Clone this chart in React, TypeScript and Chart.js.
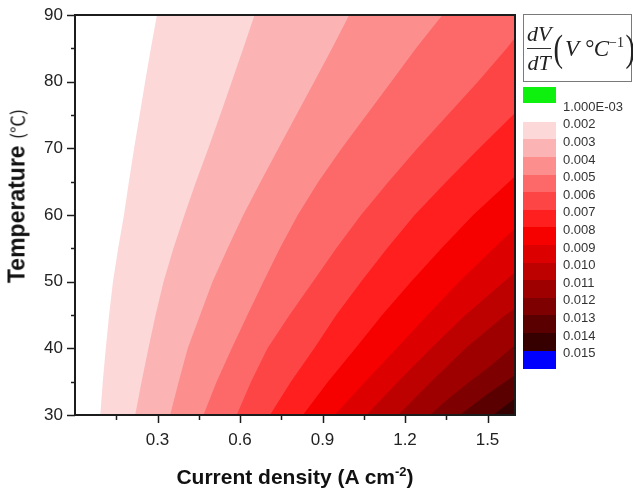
import React, { useEffect, useRef } from 'react';
import { Chart, registerables } from 'chart.js';

Chart.register(...registerables);

// Contour levels shown in the colour legend
const levelLabels = ['0.002', '0.003', '0.004', '0.005', '0.006', '0.007', '0.008', '0.009', '0.010', '0.011', '0.012', '0.013', '0.014', '0.015'];
// Fill colour of each band (band starting at the level of the same index)
const bandColors = ['#fdd8d8', '#fbb3b3', '#fc8e8e', '#fd6969', '#fe4545', '#ff1f1f', '#f70000', '#dc0000', '#bd0000', '#9e0000', '#7e0000', '#5a0000', '#360000'];
const overColor = '#0000ff';
const underColor = '#0ef00e';
const underLabel = '1.000E-03';

// Axis ticks
const xMajorTicks = [0.3, 0.6, 0.9, 1.2, 1.5];
const xMinorTicks = [0.15, 0.45, 0.75, 1.05, 1.35];
const yMajorTicks = [30, 40, 50, 60, 70, 80, 90];
const yMinorTicks = [35, 45, 55, 65, 75, 85];

// Contour boundary lines: [current density, temperature]
const edge002 = [[0.092, 30], [0.101, 35], [0.112, 40], [0.124, 45], [0.138, 50], [0.157, 55], [0.178, 60], [0.196, 65], [0.215, 70], [0.235, 75], [0.255, 80], [0.276, 85], [0.298, 90]];
const edge003 = [[0.219, 30], [0.242, 35], [0.267, 40], [0.293, 45], [0.322, 50], [0.358, 55], [0.398, 60], [0.44, 65], [0.485, 70], [0.528, 75], [0.57, 80], [0.612, 85], [0.653, 90]];
const edge004 = [[0.346, 30], [0.377, 35], [0.41, 40], [0.455, 45], [0.5, 50], [0.555, 55], [0.612, 60], [0.675, 65], [0.74, 70], [0.805, 75], [0.87, 80], [0.935, 85], [0.997, 90]];
const edge005 = [[0.467, 30], [0.515, 35], [0.57, 40], [0.627, 45], [0.685, 50], [0.745, 55], [0.81, 60], [0.885, 65], [0.97, 70], [1.06, 75], [1.15, 80], [1.24, 85], [1.336, 90]];
const edge006 = [[0.588, 30], [0.64, 35], [0.7, 40], [0.78, 45], [0.865, 50], [0.95, 55], [1.04, 60], [1.14, 65], [1.245, 70], [1.355, 75], [1.465, 80], [1.57, 85], [1.6, 86.6]];
const edge007 = [[0.709, 30], [0.785, 35], [0.87, 40], [0.95, 45], [1.04, 50], [1.135, 55], [1.235, 60], [1.35, 65], [1.47, 70], [1.6, 75.3]];
const edge008 = [[0.829, 30], [0.92, 35], [1.02, 40], [1.117, 45], [1.222, 50], [1.333, 55], [1.448, 60], [1.579, 65], [1.6, 65.8]];
const edge009 = [[0.945, 30], [1.055, 35], [1.17, 40], [1.282, 45], [1.397, 50], [1.523, 55], [1.6, 58]];
const edge010 = [[1.06, 30], [1.175, 35], [1.295, 40], [1.42, 45], [1.56, 50], [1.6, 51.4]];
const edge011 = [[1.175, 30], [1.295, 35], [1.42, 40], [1.565, 45], [1.6, 46]];
const edge012 = [[1.29, 30], [1.36, 32.5], [1.435, 35], [1.515, 37.5], [1.6, 40.5]];
const edge013 = [[1.4, 30], [1.495, 33], [1.6, 36]];
const edge014 = [[1.52, 30], [1.6, 32.5]];
const edges = [edge002, edge003, edge004, edge005, edge006, edge007, edge008, edge009, edge010, edge011, edge012, edge013, edge014];

const X_MIN = 0;
const X_MAX = 1.6;
const Y_MIN = 30;
const Y_MAX = 90;

const SANS = '"Liberation Sans", Arial, Helvetica, sans-serif';
const SERIF = '"Liberation Serif", "Times New Roman", serif';

function regionPoints(edge: number[][]) {
  const pts = edge.map(([x, y]) => ({ x, y }));
  const last = edge[edge.length - 1];
  if (last[1] >= Y_MAX) pts.push({ x: X_MAX, y: Y_MAX });
  pts.push({ x: X_MAX, y: Y_MIN });
  return pts;
}

const framePlugin = {
  id: 'frameTicks',
  afterDraw(chart: any) {
    const { ctx, chartArea } = chart;
    const { left, right, top, bottom } = chartArea;
    const xs = chart.scales.x;
    const ys = chart.scales.y;
    ctx.save();
    ctx.strokeStyle = '#1c1c1c';
    ctx.lineWidth = 1.5;
    ctx.beginPath();
    xMajorTicks.forEach((v) => {
      const p = Math.round(xs.getPixelForValue(v)) + 0.5;
      ctx.moveTo(p, bottom);
      ctx.lineTo(p, bottom + 8);
    });
    xMinorTicks.forEach((v) => {
      const p = Math.round(xs.getPixelForValue(v)) + 0.5;
      ctx.moveTo(p, bottom);
      ctx.lineTo(p, bottom + 5);
    });
    yMajorTicks.forEach((v) => {
      const p = Math.round(ys.getPixelForValue(v)) + 0.5;
      ctx.moveTo(left, p);
      ctx.lineTo(left - 8, p);
    });
    yMinorTicks.forEach((v) => {
      const p = Math.round(ys.getPixelForValue(v)) + 0.5;
      ctx.moveTo(left, p);
      ctx.lineTo(left - 4, p);
    });
    ctx.stroke();
    ctx.lineWidth = 2;
    ctx.strokeRect(left, top, right - left, bottom - top);
    ctx.restore();
  },
};

export default function App() {
  const canvasRef = useRef<HTMLCanvasElement | null>(null);

  useEffect(() => {
    if (!canvasRef.current) return;
    const chart = new Chart(canvasRef.current, {
      type: 'scatter',
      data: {
        datasets: edges.map((edge, i) => ({
          label: levelLabels[i],
          data: regionPoints(edge),
          showLine: true,
          fill: 'shape',
          backgroundColor: bandColors[i],
          borderColor: 'rgba(0,0,0,0)',
          borderWidth: 0,
          pointRadius: 0,
          pointHoverRadius: 0,
          tension: 0,
          order: edges.length - i,
        })),
      },
      options: {
        responsive: false,
        animation: false,
        devicePixelRatio: 1,
        layout: { padding: { left: 0, right: 118, top: 15, bottom: 0 } },
        plugins: {
          legend: { display: false },
          tooltip: { enabled: false },
        },
        scales: {
          x: {
            type: 'linear',
            min: X_MIN,
            max: X_MAX,
            grid: { display: false, drawTicks: true, tickLength: 15 },
            border: { display: false },
            ticks: {
              stepSize: 0.3,
              includeBounds: false,
              autoSkip: false,
              maxRotation: 0,
              padding: 0,
              color: '#222',
              font: { family: SANS, size: 17 },
              callback: (v: any) => (Math.abs(Number(v)) < 1e-9 ? '' : Number(v).toFixed(1)),
            },
            afterFit: (s: any) => {
              s.height = 75;
            },
          },
          y: {
            type: 'linear',
            min: Y_MIN,
            max: Y_MAX,
            grid: { display: false, drawTicks: true, tickLength: 12 },
            border: { display: false },
            ticks: {
              stepSize: 10,
              padding: 0,
              color: '#222',
              font: { family: SANS, size: 17 },
            },
            afterFit: (s: any) => {
              s.width = 75;
            },
          },
        },
      },
      plugins: [framePlugin],
    } as any);
    return () => chart.destroy();
  }, []);

  const rowTop = 121.7;
  const rowH = 17.6;
  const swatchLeft = 523;
  const swatchW = 33;

  return (
    <div style={{ position: 'absolute', left: 0, top: 0, width: 633, height: 490, background: '#fff', overflow: 'hidden', fontFamily: SANS }}>
      <canvas ref={canvasRef} width={633} height={490} style={{ position: 'absolute', left: 0, top: 0, width: 633, height: 490 }} />

      {/* y axis title */}
      <div
        style={{
          position: 'absolute',
          left: 17,
          top: 196,
          transform: 'translate(-50%, -50%) rotate(-90deg)',
          whiteSpace: 'nowrap',
          fontSize: 23,
          fontWeight: 'bold',
          color: '#111',
          lineHeight: 1,
        }}
      >
        Temperature <span style={{ fontWeight: 'normal', fontFamily: '"Noto Sans CJK SC", sans-serif', fontSize: 18 }}>(℃)</span>
      </div>

      {/* x axis title */}
      <div
        style={{
          position: 'absolute',
          left: 295,
          top: 476,
          transform: 'translate(-50%, -50%)',
          whiteSpace: 'nowrap',
          fontSize: 21,
          fontWeight: 'bold',
          color: '#111',
          lineHeight: 1,
        }}
      >
        Current density (A cm<span style={{ fontSize: 13, position: 'relative', top: -8 }}>-2</span>)
      </div>

      {/* legend title */}
      <div
        style={{
          position: 'absolute',
          left: 523,
          top: 14,
          width: 109,
          height: 68,
          boxSizing: 'border-box',
          border: '1px solid #7a7a7a',
          display: 'flex',
          alignItems: 'center',
          paddingLeft: 3,
          fontFamily: SERIF,
          color: '#222',
        }}
      >
        <div style={{ display: 'inline-flex', flexDirection: 'column', alignItems: 'center', fontStyle: 'italic', fontSize: 22, lineHeight: 1.05 }}>
          <span>dV</span>
          <span style={{ width: '100%', height: 1, background: '#333', margin: '2px 0' }} />
          <span>dT</span>
        </div>
        <span style={{ fontSize: 38, lineHeight: 1, marginLeft: 1, transform: 'scaleX(0.75)' }}>(</span>
        <span style={{ fontStyle: 'italic', fontSize: 23, lineHeight: 1, whiteSpace: 'nowrap' }}>
          V °C<span style={{ fontSize: 14, position: 'relative', top: -9, fontStyle: 'normal' }}>−1</span>
        </span>
        <span style={{ fontSize: 38, lineHeight: 1, transform: 'scaleX(0.75)' }}>)</span>
      </div>

      {/* under-range swatch */}
      <div style={{ position: 'absolute', left: swatchLeft, top: 87, width: swatchW, height: 16, background: underColor }} />
      <div style={{ position: 'absolute', left: 563, top: 99.6, fontSize: 13, lineHeight: '13px', color: '#333' }}>{underLabel}</div>

      {/* level swatches */}
      {levelLabels.map((lab, i) => (
        <React.Fragment key={lab}>
          <div
            style={{
              position: 'absolute',
              left: swatchLeft,
              top: rowTop + i * rowH,
              width: swatchW,
              height: rowH + 0.5,
              background: i < bandColors.length ? bandColors[i] : overColor,
            }}
          />
          <div style={{ position: 'absolute', left: 563, top: rowTop + i * rowH - 4.3, fontSize: 13, lineHeight: '13px', color: '#333' }}>{lab}</div>
        </React.Fragment>
      ))}
    </div>
  );
}
